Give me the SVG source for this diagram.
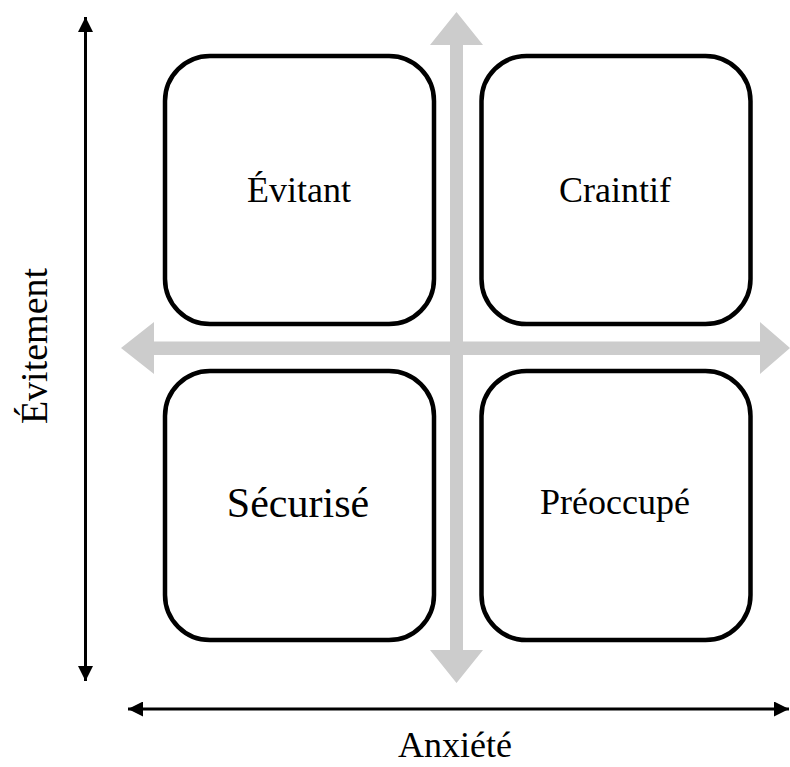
<svg xmlns="http://www.w3.org/2000/svg" width="790" height="767" viewBox="0 0 790 767">
<style>
.box{fill:#fff;stroke:#000;stroke-width:4.5}
.lbl{font-family:"Liberation Serif","Times New Roman",serif;fill:#000;text-anchor:middle}
.ax{stroke:#000;stroke-width:3;fill:none}
.g{fill:#cccccc}
</style>
<defs>
<marker id="ah" viewBox="0 0 10 10" refX="10" refY="5" markerWidth="5" markerHeight="5" orient="auto-start-reverse" markerUnits="strokeWidth">
<path d="M0,0 L10,5 L0,10 z" fill="#000"/>
</marker>
</defs>
<g id="connectors">
<line class="ax" x1="85.5" y1="17" x2="85.5" y2="681" marker-start="url(#ah)" marker-end="url(#ah)"/>
<line class="ax" x1="128" y1="709" x2="789" y2="709" marker-start="url(#ah)" marker-end="url(#ah)"/>
</g>
<g id="n-evitant">
<rect class="box" x="165" y="56" width="269" height="268" rx="45"/>
<text class="lbl" x="299" y="202" font-size="36">Évitant</text>
</g>
<g id="n-craintif">
<rect class="box" x="481.5" y="56" width="269" height="268" rx="45"/>
<text class="lbl" x="615" y="202" font-size="36">Craintif</text>
</g>
<g id="n-securise">
<rect class="box" x="165" y="371" width="269" height="269" rx="45"/>
<text class="lbl" x="298" y="517" font-size="42">Sécurisé</text>
</g>
<g id="n-preoccupe">
<rect class="box" x="481.5" y="371" width="269" height="269" rx="45"/>
<text class="lbl" x="615" y="514" font-size="36">Préoccupé</text>
</g>
<g id="gray-arrows">
<polygon class="g" points="456.5,12 483,45 463,45 463,341.5 760,341.5 760,322 790,348 760,374 760,355 463,355 463,650 483,650 456.5,683 430,650 450,650 450,355 154,355 154,374 121,348 154,322 154,341.5 450,341.5 450,45 430,45"/>
</g>
<g id="axis-labels">
<text class="lbl" font-size="38" transform="translate(47,346) rotate(-90)">Évitement</text>
<text class="lbl" x="455" y="757" font-size="36">Anxiété</text>
</g>
</svg>
